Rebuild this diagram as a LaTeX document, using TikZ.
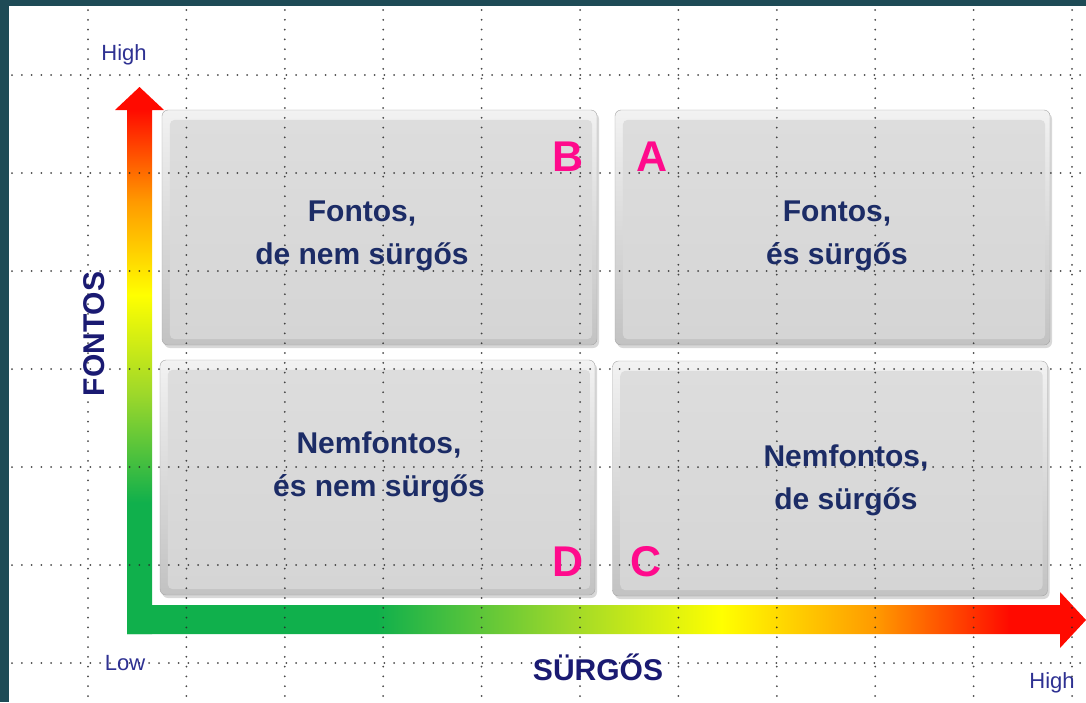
\documentclass[tikz,border=0pt]{standalone}
\usepackage{fontspec}
\setmainfont{Liberation Sans}
\usetikzlibrary{shadows}
\definecolor{frame}{HTML}{1E4B56}
\definecolor{agreen}{HTML}{10B04C}
\definecolor{ylgreen}{HTML}{9ED82A}
\definecolor{ayellow}{HTML}{FFFF00}
\definecolor{aorange}{HTML}{FF9A00}
\definecolor{ared}{HTML}{FF0A00}
\definecolor{boxtop}{HTML}{F2F2F2}
\definecolor{boxbot}{HTML}{C2C2C2}
\definecolor{facetop}{HTML}{DDDDDD}
\definecolor{facebot}{HTML}{D5D5D5}
\definecolor{navy}{HTML}{1C2C66}
\definecolor{axnavy}{HTML}{1A1A72}
\definecolor{lblue}{HTML}{2E3192}
\definecolor{magenta}{HTML}{FF0A8C}
\definecolor{gridc}{HTML}{2A2A2A}
\pgfdeclareverticalshading{vgrad}{100bp}{color(0bp)=(agreen); color(37bp)=(agreen); color(47bp)=(ylgreen); color(56bp)=(ayellow); color(64.5bp)=(aorange); color(73bp)=(ared); color(100bp)=(ared)}
\pgfdeclarehorizontalshading{hgrad}{100bp}{color(0bp)=(agreen); color(38bp)=(agreen); color(48bp)=(ylgreen); color(56bp)=(ayellow); color(64bp)=(aorange); color(71bp)=(ared); color(100bp)=(ared)}
\tikzset{
  quad/.style={rectangle, rounded corners=6pt, minimum width=435pt, minimum height=235pt,
    top color=boxtop, bottom color=boxbot, draw=boxbot!85!black, line width=0.4pt,
    drop shadow={opacity=0.3, shadow xshift=2pt, shadow yshift=-3pt}},
  face/.style={rounded corners=5pt, top color=facetop, bottom color=facebot},
  gridline/.style={draw=gridc, line width=2pt, line cap=round, dash pattern=on 0pt off 9.8pt, opacity=0.85},
  quadtext/.style={font=\bfseries\fontsize{30}{43}\selectfont, text=navy, align=center},
  letter/.style={font=\bfseries\fontsize{43}{43}\selectfont, text=magenta, inner sep=0pt},
  axistitle/.style={font=\bfseries\fontsize{30}{30}\selectfont, text=axnavy, inner sep=0pt},
  endlabel/.style={font=\fontsize{22}{22}\selectfont, text=lblue, inner sep=0pt}
}
\begin{document}
\begin{tikzpicture}[x=1pt, y=-1pt]
\useasboundingbox (0,0) rectangle (1086,702);
\fill[white] (0,0) rectangle (1086,702);
\fill[frame] (0,0) rectangle (1086,6);
\fill[frame] (0,0) rectangle (9,702);

% quadrant boxes
\node[quad] (tl) at (379.5,227.5) {};
\node[quad] (tr) at (832.5,227.5) {};
\node[quad] (bl) at (377.5,477.5) {};
\node[quad] (br) at (830,478.5) {};
\foreach \b in {tl,tr,bl,br}{
  \path[face] ([shift={(8,10)}]\b.north west) rectangle ([shift={(-5,-6)}]\b.south east);
}

% axis arrows
\path[shading=hgrad] (127,605) -- (1060,605) -- (1060,592) -- (1086,620) -- (1060,648) -- (1060,634) -- (127,634) -- cycle;
\path[shading=vgrad] (127,634) -- (127,110) -- (115,110) -- (139.5,87) -- (164,110) -- (152,110) -- (152,634) -- cycle;

% dotted grid
\foreach \k in {0,...,10}{
  \draw[gridline] (88+98.4*\k,10) -- (88+98.4*\k,702);
}
\foreach \k in {0,...,6}{
  \draw[gridline] (12,75+98*\k) -- (1086,75+98*\k);
}

% texts
\node[quadtext] (ttl) at (362,236) {Fontos,\\de nem sürgős};
\node[quadtext] (ttr) at (837,236) {Fontos,\\és sürgős};
\node[quadtext] (tbl) at (379,467) {Nemfontos,\\és nem sürgős};
\node[quadtext] (tbr) at (846,480) {Nemfontos,\\de sürgős};

\node[letter] (lb) at (568,157) {B};
\node[letter] (la) at (652,157) {A};
\node[letter] (ld) at (568,562) {D};
\node[letter] (lc) at (646,562) {C};

\node[axistitle, rotate=90] (fontos) at (94,334) {FONTOS};
\node[axistitle] (surgos) at (598,667) {SÜRGŐS};

\node[endlabel] (hightop) at (124,55) {High};
\node[endlabel] (low) at (125,663) {Low};
\node[endlabel] (highright) at (1052,683) {High};
\end{tikzpicture}
\end{document}
